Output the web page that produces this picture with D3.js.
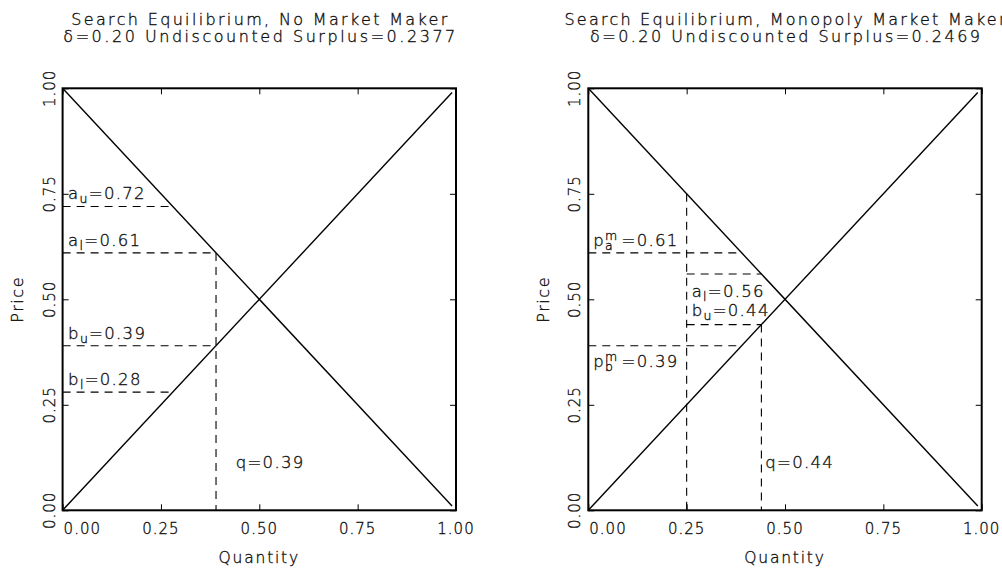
<!DOCTYPE html>
<html><head><meta charset="utf-8">
<script src="https://cdn.jsdelivr.net/npm/d3@7"></script>
<style>
body{margin:0;background:#fff;}
svg{display:block;}
text{font-family:"DejaVu Sans",sans-serif;font-weight:200;fill:#111;stroke:#111;stroke-width:0.35px;}
</style></head>
<body>
<script>
// ---------- data ----------
const tickValues = [0, 0.25, 0.5, 0.75, 1];
const tickLabels = ["0.00", "0.25", "0.50", "0.75", "1.00"];
const titleLine1 = ["Search Equilibrium, No Market Maker", "Search Equilibrium, Monopoly Market Maker"];
const titleLine2 = ["δ=0.20 Undiscounted Surplus=0.2377", "δ=0.20 Undiscounted Surplus=0.2469"];
const xTitle = "Quantity";
const yTitle = "Price";
// demand (falling) and supply (rising) lines: [quantity, price]
const demandLine = [[0, 1], [0.99, 0.01]];
const supplyLine = [[0, 0], [0.99, 0.99]];
// dashed guide segments: [q1, p1, q2, p2]
const leftSegments = [
  [0, 0.72, 0.28, 0.72],
  [0, 0.61, 0.39, 0.61],
  [0.39, 0.61, 0.39, 0],
  [0, 0.39, 0.39, 0.39],
  [0, 0.28, 0.28, 0.28]
];
const rightSegments = [
  [0, 0.61, 0.39, 0.61],
  [0, 0.39, 0.39, 0.39],
  [0.25, 0.75, 0.25, 0],
  [0.25, 0.56, 0.44, 0.56],
  [0.25, 0.44, 0.44, 0.44],
  [0.44, 0.44, 0.44, 0]
];
// annotation labels: anchor in data coords (q, p) + pixel nudge
const leftLabels = [
  {q: 0, p: 0.72, dx: 5.5, dy: -7, parts: [{n: "a"}, {sub: "u"}, {n: "=0.72"}]},
  {q: 0, p: 0.61, dx: 5.5, dy: -7, parts: [{n: "a"}, {sub: "l"}, {n: "=0.61"}]},
  {q: 0, p: 0.39, dx: 5.5, dy: -7, parts: [{n: "b"}, {sub: "u"}, {n: "=0.39"}]},
  {q: 0, p: 0.28, dx: 5.5, dy: -7, parts: [{n: "b"}, {sub: "l"}, {n: "=0.28"}]},
  {q: 0.44, p: 0.1, dx: 0, dy: 0, parts: [{n: "q=0.39"}]}
];
const rightLabels = [
  {q: 0, p: 0.61, dx: 5, dy: -7, parts: [{n: "p"}, {sup: "m", sub: "a"}, {n: "=0.61"}]},
  {q: 0, p: 0.39, dx: 5, dy: 21, parts: [{n: "p"}, {sup: "m", sub: "b"}, {n: "=0.39"}]},
  {q: 0.25, p: 0.56, dx: 5, dy: 23, parts: [{n: "a"}, {sub: "l"}, {n: "=0.56"}]},
  {q: 0.25, p: 0.44, dx: 5, dy: -9, parts: [{n: "b"}, {sub: "u"}, {n: "=0.44"}]},
  {q: 0.45, p: 0.1, dx: 0, dy: 0, parts: [{n: "q=0.44"}]}
];

// ---------- layout ----------
const W = 1002, H = 570;
const svg = d3.select("body").append("svg").attr("width", W).attr("height", H);

const panels = [
  {left: 62.6, segs: leftSegments, labels: leftLabels},
  {left: 588.3, segs: rightSegments, labels: rightLabels}
];
const plotW = 393.4, plotTop = 88.3, plotBottom = 510.3;

function drawLabel(g, x, y, parts) {
  const t = g.append("text").attr("font-size", 16.5).attr("letter-spacing", 1.3);
  let cx = x;
  parts.forEach(pt => {
    if (pt.n !== undefined) {
      const s = t.append("tspan").attr("x", cx).attr("y", y).text(pt.n);
      cx += s.node().getComputedTextLength();
    } else {
      let adv = 0;
      if (pt.sup !== undefined) {
        const s = t.append("tspan").attr("x", cx).attr("y", y - 6).attr("font-size", 12.5).text(pt.sup);
        adv = Math.max(adv, s.node().getComputedTextLength());
      }
      if (pt.sub !== undefined) {
        const s = t.append("tspan").attr("x", cx).attr("y", y + 4).attr("font-size", 12.5).text(pt.sub);
        adv = Math.max(adv, s.node().getComputedTextLength());
      }
      cx += adv + (pt.sup !== undefined ? 3 : 0);
    }
  });
}

const titleLens1 = [376, 441];
const titleLens2 = [392, 390];

panels.forEach((pn, i) => {
  const x = d3.scaleLinear().domain([0, 1]).range([pn.left, pn.left + plotW]);
  const y = d3.scaleLinear().domain([0, 1]).range([plotBottom, plotTop]);
  const g = svg.append("g");
  const cx = (x(0) + x(1)) / 2;

  // titles
  g.append("text").attr("x", cx).attr("y", 25).attr("text-anchor", "middle")
    .attr("font-size", 16).attr("textLength", titleLens1[i]).attr("lengthAdjust", "spacing")
    .text(titleLine1[i]);
  g.append("text").attr("x", cx).attr("y", 42).attr("text-anchor", "middle")
    .attr("font-size", 16).attr("textLength", titleLens2[i]).attr("lengthAdjust", "spacing")
    .text(titleLine2[i]);

  // dashed guides
  g.selectAll(".seg").data(pn.segs).join("line")
    .attr("x1", d => x(d[0])).attr("y1", d => y(d[1]))
    .attr("x2", d => x(d[2])).attr("y2", d => y(d[3]))
    .attr("stroke", "#000").attr("stroke-width", 1.1).attr("stroke-dasharray", "8,6");

  // supply/demand lines
  const line = d3.line().x(d => x(d[0])).y(d => y(d[1]));
  [demandLine, supplyLine].forEach(L => {
    g.append("path").attr("d", line(L)).attr("fill", "none")
      .attr("stroke", "#000").attr("stroke-width", 1.4);
  });

  // axes with inward ticks (all four sides)
  const tk = 6;
  const xb = g.append("g").attr("transform", `translate(0,${plotBottom})`)
    .call(d3.axisBottom(x).tickValues(tickValues).tickSizeInner(-tk).tickSizeOuter(0).tickFormat(""));
  const xt = g.append("g").attr("transform", `translate(0,${plotTop})`)
    .call(d3.axisTop(x).tickValues(tickValues).tickSizeInner(-tk).tickSizeOuter(0).tickFormat(""));
  const yl = g.append("g").attr("transform", `translate(${x(0)},0)`)
    .call(d3.axisLeft(y).tickValues(tickValues).tickSizeInner(-tk).tickSizeOuter(0).tickFormat(""));
  const yr = g.append("g").attr("transform", `translate(${x(1)},0)`)
    .call(d3.axisRight(y).tickValues(tickValues).tickSizeInner(-tk).tickSizeOuter(0).tickFormat(""));
  [xb, xt, yl, yr].forEach(a => {
    a.select(".domain").remove();
    a.selectAll(".tick line").attr("stroke", "#000").attr("stroke-width", 1);
  });
  // frame
  g.append("rect").attr("x", x(0)).attr("y", y(1)).attr("width", x(1) - x(0)).attr("height", y(0) - y(1))
    .attr("fill", "none").attr("stroke", "#000").attr("stroke-width", 2);

  // x tick labels
  g.selectAll(".xl").data(tickValues).join("text")
    .attr("x", (d, j) => j === 0 ? x(d) + 1 : x(d))
    .attr("y", 534).attr("text-anchor", (d, j) => j === 0 ? "start" : "middle")
    .attr("font-size", 15).attr("letter-spacing", 1)
    .text((d, j) => tickLabels[j]);
  // y tick labels (rotated)
  g.selectAll(".yl").data(tickValues).join("text")
    .attr("transform", d => `translate(${x(0) - 8},${y(d)}) rotate(-90)`)
    .attr("text-anchor", "middle").attr("font-size", 15).attr("letter-spacing", 1)
    .text((d, j) => tickLabels[j]);

  // axis titles
  g.append("text").attr("x", cx).attr("y", 563).attr("text-anchor", "middle")
    .attr("font-size", 15.5).attr("letter-spacing", 1.8).text(xTitle);
  g.append("text").attr("transform", `translate(${x(0) - 39.6},${y(0.5)}) rotate(-90)`)
    .attr("text-anchor", "middle").attr("font-size", 16).attr("letter-spacing", 1.6).text(yTitle);

  // annotations
  pn.labels.forEach(lb => drawLabel(g, x(lb.q) + lb.dx, y(lb.p) + lb.dy, lb.parts));
});
</script>
</body></html>
